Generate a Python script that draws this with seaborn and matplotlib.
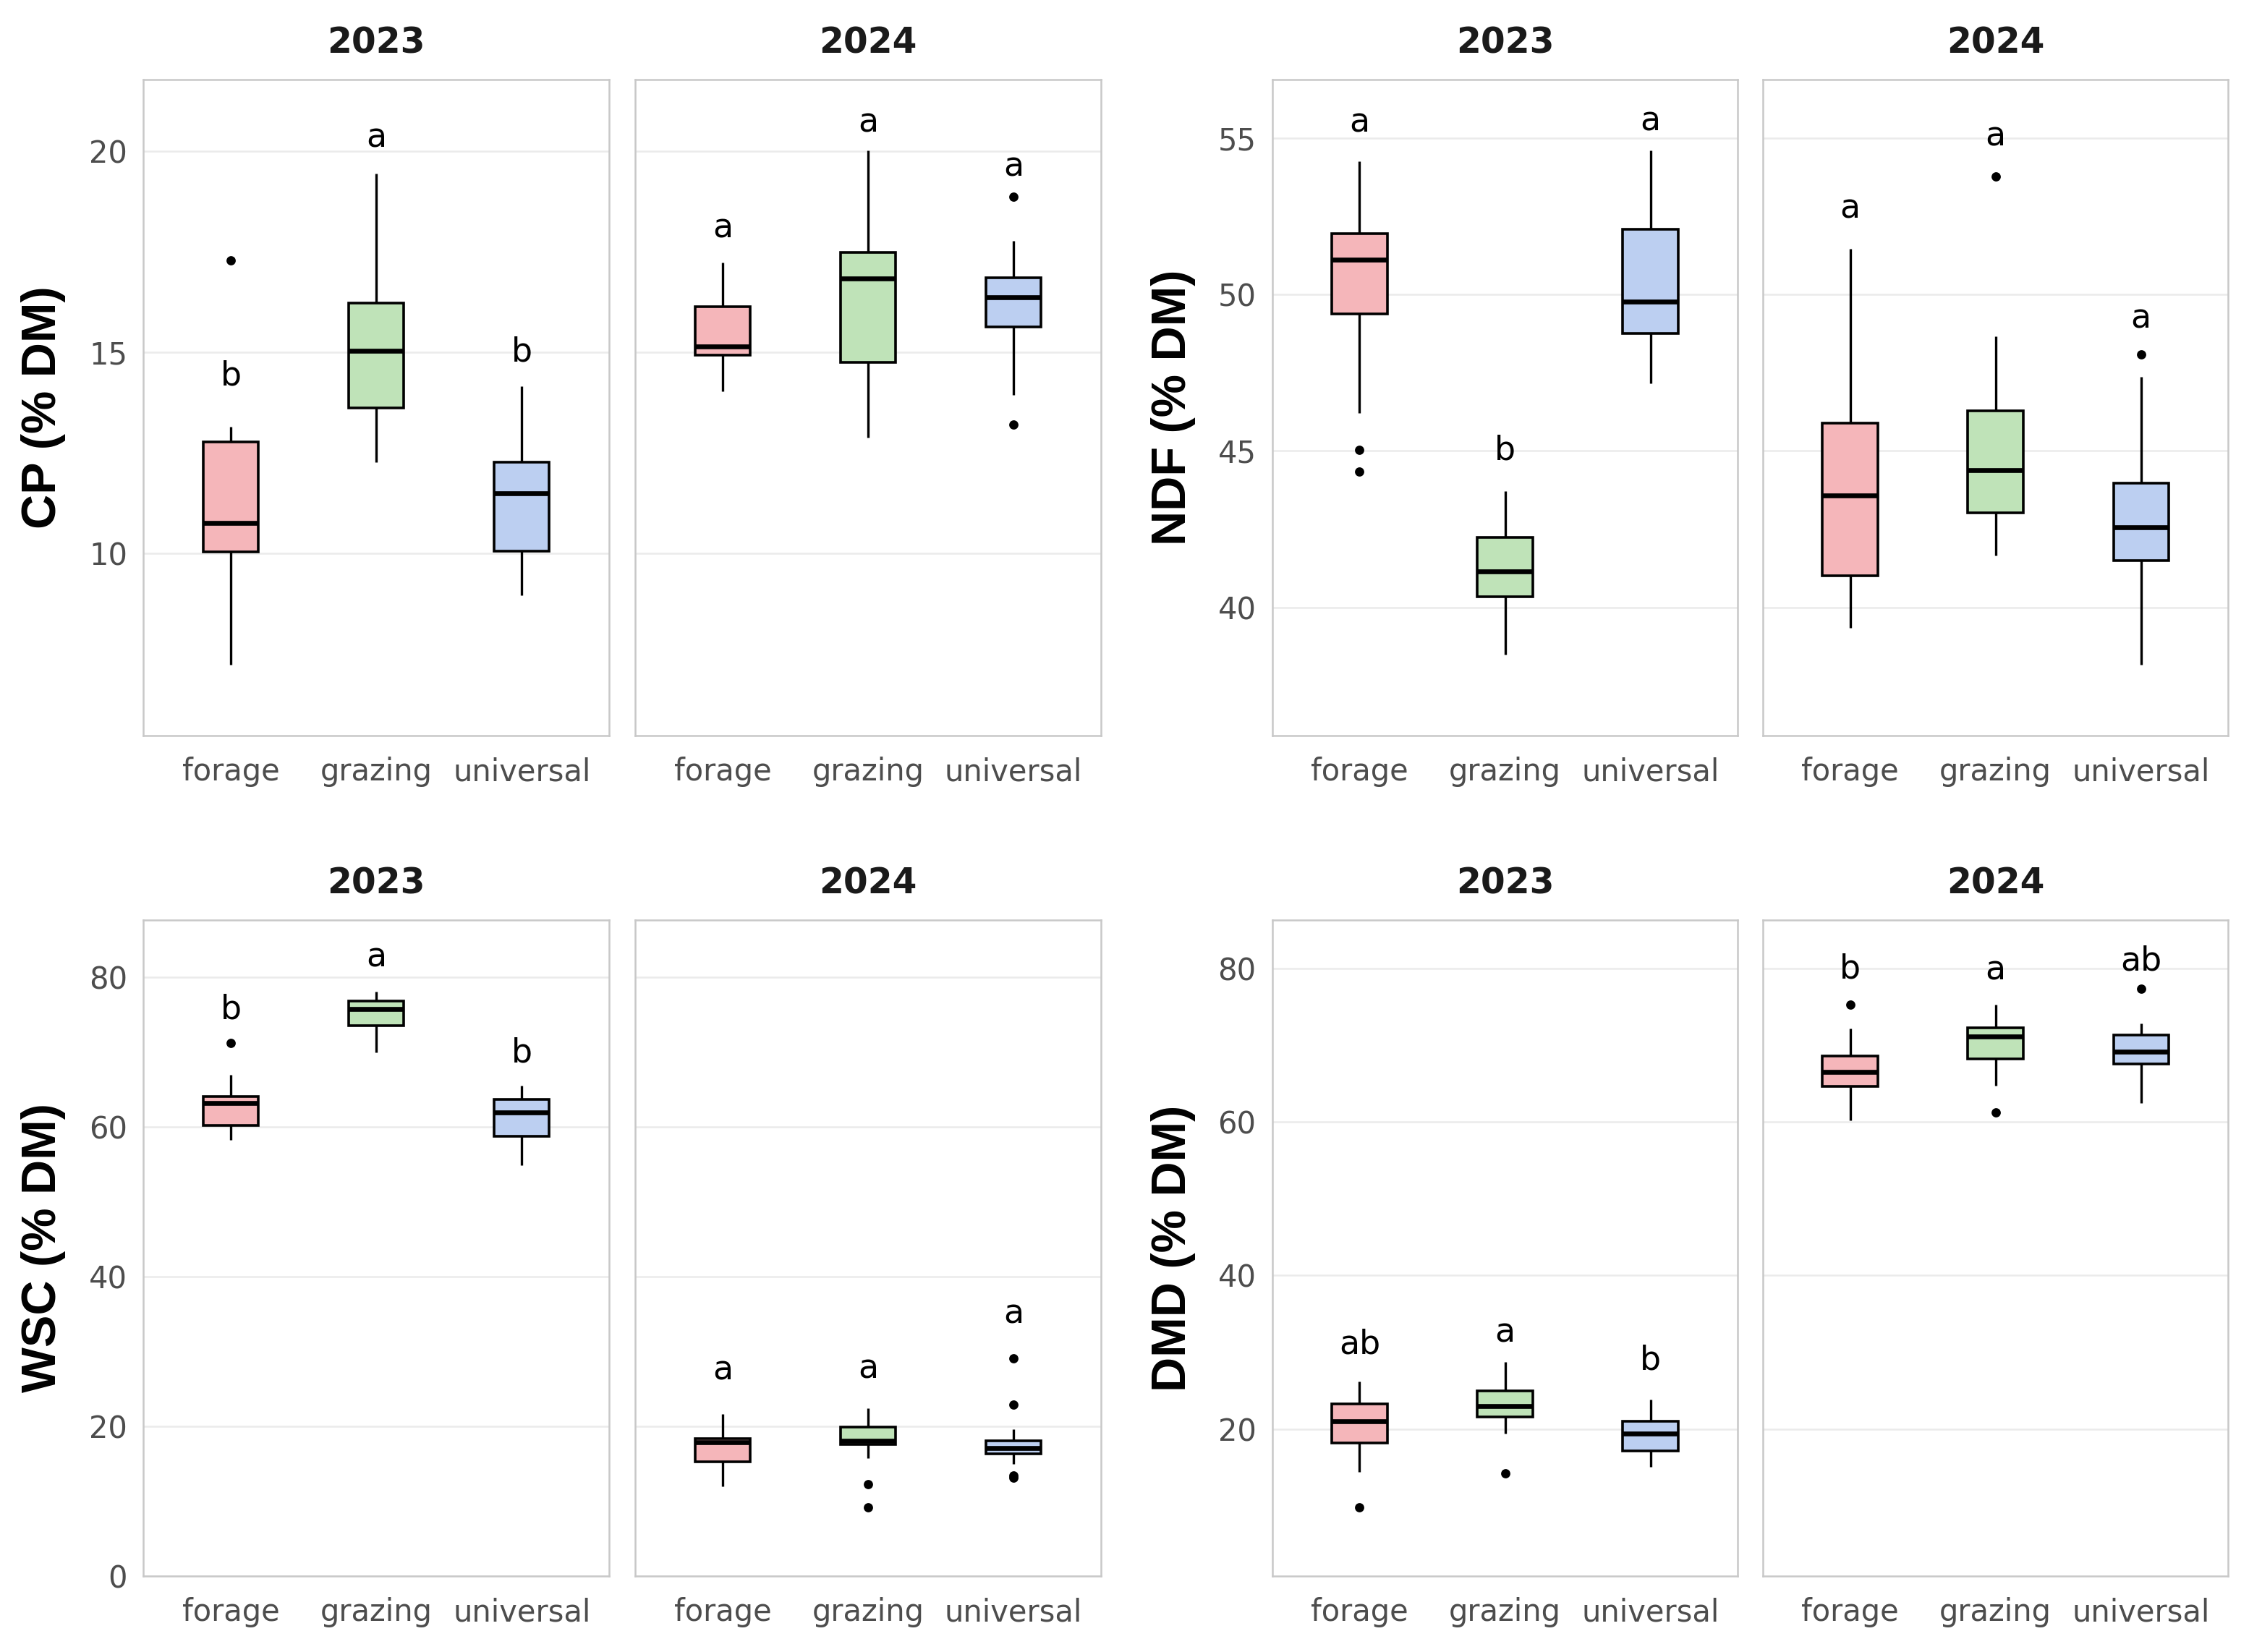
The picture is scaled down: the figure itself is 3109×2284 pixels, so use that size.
import numpy as np
import pandas as pd
import matplotlib
matplotlib.use("Agg")
import matplotlib.pyplot as plt
from matplotlib import font_manager
import seaborn as sns

# categories
groups = ["forage", "grazing", "universal"]
years = ["2023", "2024"]
palette = {"forage": "#F5B6BA", "grazing": "#BFE3B8", "universal": "#BCCFF1"}

# box summaries: (lower whisker, Q1, median, Q3, upper whisker)
cp_2023 = [(7.23, 10.03, 10.75, 12.77, 13.15), (12.26, 13.62, 15.04, 16.22, 19.44), (8.95, 10.05, 11.50, 12.26, 14.16)]
cp_2023_out = [[17.29], [], []]
cp_2024 = [(14.03, 14.92, 15.15, 16.13, 17.22), (12.87, 14.74, 16.83, 17.48, 20.01), (13.94, 15.63, 16.36, 16.86, 17.76)]
cp_2024_out = [[], [], [18.86, 13.21]]

ndf_2023 = [(46.2, 49.38, 51.11, 51.95, 54.25), (38.5, 40.33, 41.15, 42.24, 43.71), (47.16, 48.75, 49.76, 52.08, 54.61)]
ndf_2023_out = [[45.03, 44.35], [], []]
ndf_2024 = [(39.35, 41.01, 43.58, 45.88, 51.46), (41.66, 43.03, 44.38, 46.28, 48.66), (38.16, 41.5, 42.57, 43.98, 47.36)]
ndf_2024_out = [[], [53.77], [48.08]]

wsc_2023 = [(58.2, 60.14, 63.2, 64.06, 66.93), (69.98, 73.48, 75.73, 76.78, 78.04), (54.88, 58.74, 61.9, 63.64, 65.47)]
wsc_2023_out = [[71.2], [], []]
wsc_2024 = [(12.0, 15.3, 17.83, 18.32, 21.68), (15.73, 17.62, 18.1, 19.86, 22.38), (15.0, 16.3, 17.13, 18.1, 19.58)]
wsc_2024_out = [[], [12.22, 9.21], [29.04, 22.87, 13.4, 13.1]]

dmd_2023 = [(14.46, 18.22, 20.96, 23.28, 26.22), (19.38, 21.57, 23.0, 25.0, 28.75), (15.08, 17.13, 19.45, 20.96, 23.83)]
dmd_2023_out = [[9.82], [14.26], []]
dmd_2024 = [(60.14, 64.62, 66.53, 68.59, 72.14), (64.69, 68.18, 71.11, 72.2, 75.2), (62.44, 67.56, 69.13, 71.32, 72.82)]
dmd_2024_out = [[75.28], [61.2], [77.3]]

# significance letters and where they sit
cp_letters = [["b", "a", "b"], ["a", "a", "a"]]
cp_letter_y = [[14.41, 20.33, 15.0], [18.08, 20.7, 19.6]]
ndf_letters = [["a", "b", "a"], ["a", "a", "a"]]
ndf_letter_y = [[55.47, 45.0, 55.52], [52.73, 55.03, 49.21]]
wsc_letters = [["b", "a", "b"], ["a", "a", "a"]]
wsc_letter_y = [[75.6, 82.6, 69.8], [27.4, 27.64, 35.0]]
dmd_letters = [["ab", "a", "b"], ["b", "a", "ab"]]
dmd_letter_y = [[31.0, 32.5, 28.95], [79.86, 79.66, 80.9]]

# axis setup
cp_ylim, cp_ticks = (5.47, 21.78), [10, 15, 20]
ndf_ylim, ndf_ticks = (35.90, 56.87), [40, 45, 50, 55]
wsc_ylim, wsc_ticks = (0, 87.64), [0, 20, 40, 60, 80]
dmd_ylim, dmd_ticks = (0.86, 86.29), [20, 40, 60, 80]


def summary_to_sample(stats, outliers):
    # build a sample whose quartiles / whiskers reproduce the read summary
    lo, q1, med, q3, hi = stats
    lows = sorted(v for v in outliers if v < q1)
    highs = sorted(v for v in outliers if v > q3)
    m = max(len(lows), len(highs)) + 1
    bottom = lows + [lo] * (m - len(lows))
    top = [hi] * (m - len(highs)) + highs
    return bottom + [q1] * m + [med] + [q3] * m + top


panels = [
    ("CP", [cp_2023, cp_2024], [cp_2023_out, cp_2024_out], cp_letters, cp_letter_y, cp_ylim, cp_ticks),
    ("NDF", [ndf_2023, ndf_2024], [ndf_2023_out, ndf_2024_out], ndf_letters, ndf_letter_y, ndf_ylim, ndf_ticks),
    ("WSC", [wsc_2023, wsc_2024], [wsc_2023_out, wsc_2024_out], wsc_letters, wsc_letter_y, wsc_ylim, wsc_ticks),
    ("DMD", [dmd_2023, dmd_2024], [dmd_2023_out, dmd_2024_out], dmd_letters, dmd_letter_y, dmd_ylim, dmd_ticks),
]

records = []
for var, summ, outs, *_ in panels:
    for yi, year in enumerate(years):
        for gi, g in enumerate(groups):
            for v in summary_to_sample(summ[yi][gi], outs[yi][gi]):
                records.append({"var": var, "year": year, "group": g, "value": v})
df = pd.DataFrame(records)

sns.set_theme(style="white")
plt.rcParams["font.family"] = ["DejaVu Sans"]
names = {f.name for f in font_manager.fontManager.ttflist}
ylab_family = "Liberation Sans Narrow" if "Liberation Sans Narrow" in names else "Liberation Sans"

fig = plt.figure(figsize=(15.545, 11.42), dpi=200)

col_left = [0.0638, 0.2825, 0.5657, 0.7838]
ax_w = 0.2070
row_bottom = [0.5547, 0.046]
ax_h = 0.3972
ylab_x = [0.0193, 0.5217]

for pi, (var, summ, outs, letters, letter_y, ylim, ticks) in enumerate(panels):
    r, c = divmod(pi, 2)
    for yi, year in enumerate(years):
        ax = fig.add_axes([col_left[c * 2 + yi], row_bottom[r], ax_w, ax_h])
        sub = df[(df["var"] == var) & (df["year"] == year)]
        sns.boxplot(
            data=sub, x="group", y="value", hue="group", order=groups, hue_order=groups,
            palette=palette, legend=False, dodge=False, width=0.38, saturation=1,
            linecolor="black", linewidth=1.3, showcaps=False, whis=1.5,
            medianprops={"linewidth": 2.4, "color": "black"},
            whiskerprops={"linewidth": 1.2, "color": "black"},
            flierprops={"marker": "o", "markersize": 3.6, "markerfacecolor": "black",
                        "markeredgecolor": "black"},
            ax=ax,
        )
        for gi in range(len(groups)):
            ax.text(gi, letter_y[yi][gi], letters[yi][gi], ha="center", va="center",
                    fontsize=16.5, color="black")
        ax.set_xlim(-0.6, 2.6)
        ax.set_ylim(*ylim)
        ax.set_yticks(ticks)
        ax.set_xlabel("")
        ax.set_ylabel("")
        ax.yaxis.grid(True, color="#EBEBEB", linewidth=0.9)
        ax.xaxis.grid(False)
        ax.set_axisbelow(True)
        for s in ax.spines.values():
            s.set_color("#C8C8C8")
            s.set_linewidth(0.9)
        ax.tick_params(axis="both", length=0, labelsize=15, labelcolor="#4D4D4D")
        ax.tick_params(axis="y", pad=8)
        ax.tick_params(axis="x", pad=10.5)
        if yi == 1:
            ax.set_yticklabels([])
        ax.set_title(year, fontsize=17.5, fontweight="bold", color="#1A1A1A", pad=13)
    fig.text(ylab_x[c], row_bottom[r] + ax_h / 2, f"{var} (% DM)", rotation=90,
             ha="center", va="center", fontsize=24, fontweight="bold",
             family=ylab_family, color="black")

fig.savefig("out.png", dpi=200)
